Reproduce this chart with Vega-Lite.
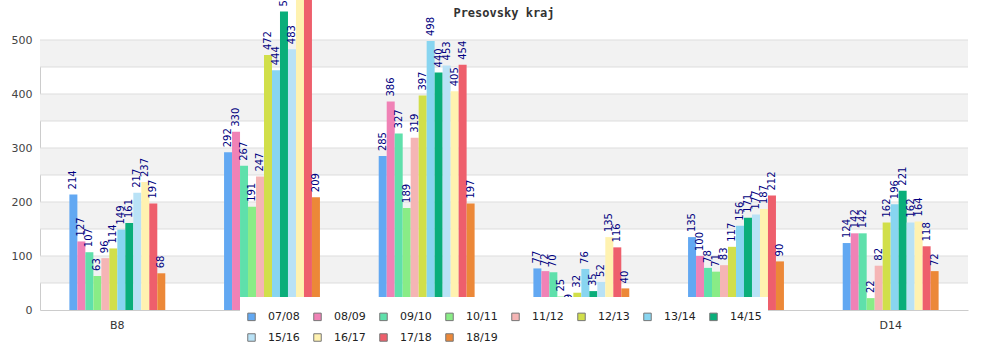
{
  "$schema": "https://vega.github.io/schema/vega-lite/v6.json",
  "width": 928,
  "height": 270,
  "autosize": {"type": "none"},
  "padding": {"left": 40, "top": 40, "right": 32, "bottom": 40},
  "background": "white",
  "title": {"text": "Presovsky kraj", "font": "DejaVu Sans Mono", "fontSize": 12, "fontWeight": "bold", "color": "#333333", "anchor": "middle", "frame": "group", "offset": 0, "dy": 63},
  "config": {
    "view": {"stroke": null},
    "font": "DejaVu Sans",
    "axisY": {"grid": false, "ticks": false, "domainColor": "#cccccc", "labelColor": "#444444", "labelFontSize": 11, "labelPadding": 8, "values": [0, 50, 100, 150, 200, 250, 300, 350, 400, 450, 500]},
    "axisX": {"grid": false, "ticks": false, "domainColor": "#cccccc", "labelColor": "#333333", "labelFontSize": 11, "labelPadding": 9, "labelAngle": 0}
  },
  "datasets": {
    "bands": [{"from": 50, "to": 100}, {"from": 150, "to": 200}, {"from": 250, "to": 300}, {"from": 350, "to": 400}, {"from": 450, "to": 500}],
    "grid": [{"v": 50}, {"v": 100}, {"v": 150}, {"v": 200}, {"v": 250}, {"v": 300}, {"v": 350}, {"v": 400}, {"v": 450}, {"v": 500}],
    "counts": [
      {"group": "B8", "season": "07/08", "value": 214}, {"group": "B8", "season": "08/09", "value": 127}, {"group": "B8", "season": "09/10", "value": 107}, {"group": "B8", "season": "10/11", "value": 63}, {"group": "B8", "season": "11/12", "value": 96}, {"group": "B8", "season": "12/13", "value": 114}, {"group": "B8", "season": "13/14", "value": 149}, {"group": "B8", "season": "14/15", "value": 161}, {"group": "B8", "season": "15/16", "value": 217}, {"group": "B8", "season": "16/17", "value": 237}, {"group": "B8", "season": "17/18", "value": 197}, {"group": "B8", "season": "18/19", "value": 68},
      {"group": "C9", "season": "07/08", "value": 292}, {"group": "C9", "season": "08/09", "value": 330}, {"group": "C9", "season": "09/10", "value": 267}, {"group": "C9", "season": "10/11", "value": 191}, {"group": "C9", "season": "11/12", "value": 247}, {"group": "C9", "season": "12/13", "value": 472}, {"group": "C9", "season": "13/14", "value": 444}, {"group": "C9", "season": "14/15", "value": 553}, {"group": "C9", "season": "15/16", "value": 483}, {"group": "C9", "season": "16/17", "value": 590}, {"group": "C9", "season": "17/18", "value": 610}, {"group": "C9", "season": "18/19", "value": 209},
      {"group": "C10", "season": "07/08", "value": 285}, {"group": "C10", "season": "08/09", "value": 386}, {"group": "C10", "season": "09/10", "value": 327}, {"group": "C10", "season": "10/11", "value": 189}, {"group": "C10", "season": "11/12", "value": 319}, {"group": "C10", "season": "12/13", "value": 397}, {"group": "C10", "season": "13/14", "value": 498}, {"group": "C10", "season": "14/15", "value": 440}, {"group": "C10", "season": "15/16", "value": 453}, {"group": "C10", "season": "16/17", "value": 405}, {"group": "C10", "season": "17/18", "value": 454}, {"group": "C10", "season": "18/19", "value": 197},
      {"group": "C11", "season": "07/08", "value": 77}, {"group": "C11", "season": "08/09", "value": 72}, {"group": "C11", "season": "09/10", "value": 70}, {"group": "C11", "season": "10/11", "value": 25}, {"group": "C11", "season": "11/12", "value": 9}, {"group": "C11", "season": "12/13", "value": 32}, {"group": "C11", "season": "13/14", "value": 76}, {"group": "C11", "season": "14/15", "value": 35}, {"group": "C11", "season": "15/16", "value": 52}, {"group": "C11", "season": "16/17", "value": 135}, {"group": "C11", "season": "17/18", "value": 116}, {"group": "C11", "season": "18/19", "value": 40},
      {"group": "D12", "season": "07/08", "value": 135}, {"group": "D12", "season": "08/09", "value": 100}, {"group": "D12", "season": "09/10", "value": 78}, {"group": "D12", "season": "10/11", "value": 71}, {"group": "D12", "season": "11/12", "value": 83}, {"group": "D12", "season": "12/13", "value": 117}, {"group": "D12", "season": "13/14", "value": 156}, {"group": "D12", "season": "14/15", "value": 171}, {"group": "D12", "season": "15/16", "value": 177}, {"group": "D12", "season": "16/17", "value": 187}, {"group": "D12", "season": "17/18", "value": 212}, {"group": "D12", "season": "18/19", "value": 90},
      {"group": "D14", "season": "07/08", "value": 124}, {"group": "D14", "season": "08/09", "value": 142}, {"group": "D14", "season": "09/10", "value": 142}, {"group": "D14", "season": "10/11", "value": 22}, {"group": "D14", "season": "11/12", "value": 82}, {"group": "D14", "season": "12/13", "value": 162}, {"group": "D14", "season": "13/14", "value": 196}, {"group": "D14", "season": "14/15", "value": 221}, {"group": "D14", "season": "15/16", "value": 162}, {"group": "D14", "season": "16/17", "value": 164}, {"group": "D14", "season": "17/18", "value": 118}, {"group": "D14", "season": "18/19", "value": 72}
    ]
  },
  "layer": [
    {
      "data": {"name": "bands"},
      "mark": {"type": "rect", "color": "#f2f2f2"},
      "encoding": {
        "y": {"field": "from", "type": "quantitative", "scale": {"domain": [0, 500], "nice": false}, "title": null},
        "y2": {"field": "to"}
      }
    },
    {
      "data": {"name": "grid"},
      "mark": {"type": "rule", "color": "#dddddd", "strokeWidth": 1},
      "encoding": {
        "y": {"field": "v", "type": "quantitative", "scale": {"domain": [0, 500], "nice": false}, "title": null}
      }
    },
    {
      "data": {"name": "counts"},
      "mark": {"type": "bar"},
      "encoding": {
        "x": {"field": "group", "type": "nominal", "sort": null, "scale": {"paddingInner": 0.38, "paddingOuter": 0.19}, "title": null},
        "xOffset": {"field": "season", "type": "nominal", "sort": null, "scale": {"paddingInner": 0, "paddingOuter": 0}},
        "y": {"field": "value", "type": "quantitative", "scale": {"domain": [0, 500], "nice": false}, "title": null},
        "color": {
          "field": "season", "type": "nominal", "sort": null,
          "scale": {
            "domain": ["07/08", "08/09", "09/10", "10/11", "11/12", "12/13", "13/14", "14/15", "15/16", "16/17", "17/18", "18/19"],
            "range": ["#62a8f2", "#f082b6", "#5fe0ab", "#89ec86", "#f5b5b5", "#d1df4a", "#88d5f0", "#0aae7a", "#b9e2f6", "#fff2b0", "#ee5f6c", "#ec8838"]
          },
          "legend": {
            "orient": "none", "legendX": 200, "legendY": 257, "direction": "horizontal", "columns": 8,
            "title": " ", "titleFontSize": 6, "titlePadding": 2,
            "fillColor": "white", "padding": 6, "symbolType": "square", "symbolSize": 56,
            "symbolStrokeColor": "#777777", "symbolStrokeWidth": 1, "symbolOpacity": 1,
            "labelFont": "DejaVu Sans", "labelFontSize": 11, "labelColor": "#222222", "labelOffset": 11,
            "columnPadding": 11, "rowPadding": 8
          }
        }
      }
    },
    {
      "data": {"name": "counts"},
      "mark": {"type": "text", "angle": 270, "align": "left", "baseline": "middle", "dx": 5, "fontSize": 10, "color": "#000080", "font": "DejaVu Sans"},
      "encoding": {
        "x": {"field": "group", "type": "nominal", "sort": null, "title": null},
        "xOffset": {"field": "season", "type": "nominal", "sort": null},
        "y": {"field": "value", "type": "quantitative", "scale": {"domain": [0, 500], "nice": false}, "title": null},
        "text": {"field": "value", "type": "quantitative"}
      }
    }
  ]
}
